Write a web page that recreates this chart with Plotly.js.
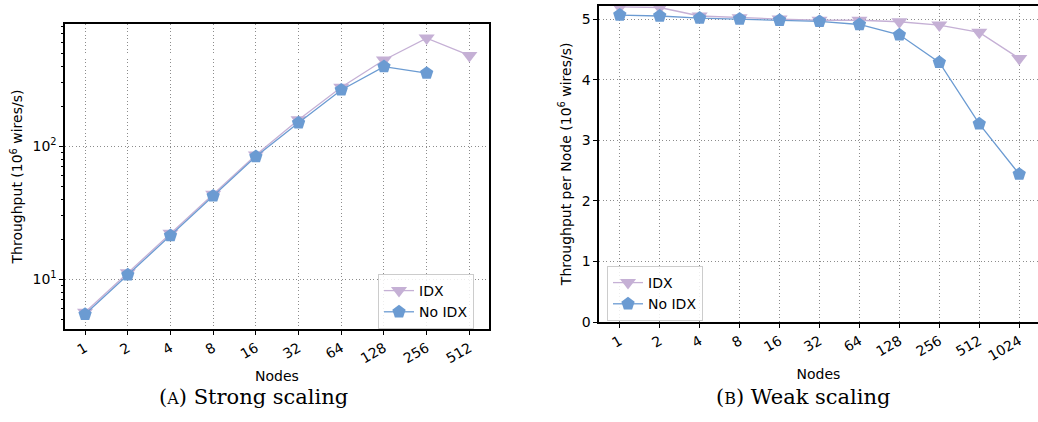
<!DOCTYPE html>
<html>
<head>
<meta charset="utf-8">
<script src="https://cdn.plot.ly/plotly-3.0.1.min.js"></script>
<style>html,body{margin:0;padding:0;background:#fff;}#chart{width:1038px;height:422px;}</style>
</head>
<body>
<div id="chart"></div>
<script>
// Strong scaling (left)
const strongNodes = ['1','2','4','8','16','32','64','128','256','512'];
const strongIDX   = [5.65, 11.2, 22.2, 43.6, 86, 158, 278, 445, 650, 482];
const strongNoIDX = [5.45, 10.8, 21.3, 42.3, 83.6, 150, 265, 397, 354, null];

// Weak scaling (right)
const weakNodes = ['1','2','4','8','16','32','64','128','256','512','1024'];
const weakIDX   = [5.2, 5.19, 5.05, 5.02, 5.0, 4.98, 4.98, 4.955, 4.9, 4.78, 4.35];
const weakNoIDX = [5.066, 5.05, 5.016, 5.0, 4.98, 4.96, 4.91, 4.74, 4.285, 3.27, 2.44];

const logMajorTicks = [10, 100];
const logMajorText = ['10<sup>1</sup>', '10<sup>2</sup>'];
const logMinorTicks = [5, 6, 7, 8, 9, 20, 30, 40, 50, 60, 70, 80, 90, 200, 300, 400, 500, 600, 700, 800];

const colIDX = '#c5b0d5';
const colNo = '#6b9bd2';
const font = 'DejaVu Sans, sans-serif';

const traces = [
  {x: strongNodes, y: strongIDX, name: 'IDX', mode: 'lines+markers', xaxis: 'x', yaxis: 'y', legend: 'legend',
   line: {color: colIDX, width: 1.3}, marker: {symbol: 'triangle-down', size: 14, color: colIDX}},
  {x: strongNodes, y: strongNoIDX, name: 'No IDX', mode: 'lines+markers', xaxis: 'x', yaxis: 'y', legend: 'legend',
   line: {color: colNo, width: 1.3}, marker: {symbol: 'pentagon', size: 14, color: colNo}},
  {x: weakNodes, y: weakIDX, name: 'IDX', mode: 'lines+markers', xaxis: 'x2', yaxis: 'y2', legend: 'legend2',
   line: {color: colIDX, width: 1.3}, marker: {symbol: 'triangle-down', size: 14, color: colIDX}},
  {x: weakNodes, y: weakNoIDX, name: 'No IDX', mode: 'lines+markers', xaxis: 'x2', yaxis: 'y2', legend: 'legend2',
   line: {color: colNo, width: 1.3}, marker: {symbol: 'pentagon', size: 14, color: colNo}}
];

const gridStyle = {showgrid: true, gridcolor: '#8c8c8c', griddash: '1px,2.5px', gridwidth: 1};
const axisLine = {showline: true, linecolor: '#000', linewidth: 1.6, ticks: 'outside', ticklen: 4, tickwidth: 1, tickcolor: '#000', zeroline: false};
const tickF = {family: font, size: 14, color: '#000'};
const titleF = {family: font, size: 14, color: '#000'};

const layout = {
  width: 1038, height: 422,
  margin: {l: 0, r: 0, t: 0, b: 0},
  paper_bgcolor: '#fff', plot_bgcolor: '#fff',
  font: {family: font, size: 14, color: '#000'},
  xaxis: Object.assign({}, gridStyle, axisLine, {
    domain: [65/1038, 489/1038], anchor: 'y', type: 'category',
    categoryorder: 'array', categoryarray: strongNodes,
    range: [-0.47, 9.46], tickangle: -30, mirror: true, tickfont: tickF,
    title: {text: 'Nodes', font: titleF, standoff: 6}
  }),
  yaxis: Object.assign({}, gridStyle, axisLine, {
    domain: [1 - 329/422, 1 - 24/422], anchor: 'x', type: 'log',
    range: [0.626, 2.919], tickmode: 'array', tickvals: logMajorTicks, ticktext: logMajorText,
    mirror: true, tickfont: tickF,
    minor: {tickmode: 'array', tickvals: logMinorTicks, ticks: 'outside', ticklen: 2, tickcolor: '#000', tickwidth: 1, showgrid: false},
    title: {text: 'Throughput (10<sup>6</sup> wires/s)', font: titleF, standoff: 6}
  }),
  xaxis2: Object.assign({}, gridStyle, axisLine, {
    domain: [599/1038, 1.0], anchor: 'y2', type: 'category',
    categoryorder: 'array', categoryarray: weakNodes,
    range: [-0.52, 10.47], tickangle: -30, mirror: true, tickfont: tickF,
    title: {text: 'Nodes', font: titleF, standoff: 6}
  }),
  yaxis2: Object.assign({}, gridStyle, axisLine, {
    domain: [1 - 322/422, 1 - 5.7/422], anchor: 'x2',
    range: [0, 5.22], tickmode: 'linear', tick0: 0, dtick: 1, tickfont: tickF,
    title: {text: 'Throughput per Node (10<sup>6</sup> wires/s)', font: titleF, standoff: 7}
  }),
  showlegend: true,
  legend: {x: 378/1038, y: 1 - 274/422, xanchor: 'left', yanchor: 'top',
    bgcolor: 'rgba(255,255,255,0.85)', bordercolor: '#cccccc', borderwidth: 1,
    font: {family: font, size: 14, color: '#000'}, itemwidth: 30, tracegroupgap: 0},
  legend2: {x: 607/1038, y: 1 - 266/422, xanchor: 'left', yanchor: 'top',
    bgcolor: 'rgba(255,255,255,0.85)', bordercolor: '#cccccc', borderwidth: 1,
    font: {family: font, size: 14, color: '#000'}, itemwidth: 30, tracegroupgap: 0},
  annotations: [
    {text: "(<span style='font-size:16px'>A</span>) Strong scaling", xref: 'paper', yref: 'paper',
     x: 253/1038, y: 1 - 397/422, xanchor: 'center', yanchor: 'middle', showarrow: false,
     font: {family: 'DejaVu Serif, serif', size: 21, color: '#000'}},
    {text: "(<span style='font-size:16px'>B</span>) Weak scaling", xref: 'paper', yref: 'paper',
     x: 803/1038, y: 1 - 397/422, xanchor: 'center', yanchor: 'middle', showarrow: false,
     font: {family: 'DejaVu Serif, serif', size: 21, color: '#000'}}
  ]
};

Plotly.newPlot('chart', traces, layout, {displayModeBar: false, staticPlot: true});
</script>
</body>
</html>
